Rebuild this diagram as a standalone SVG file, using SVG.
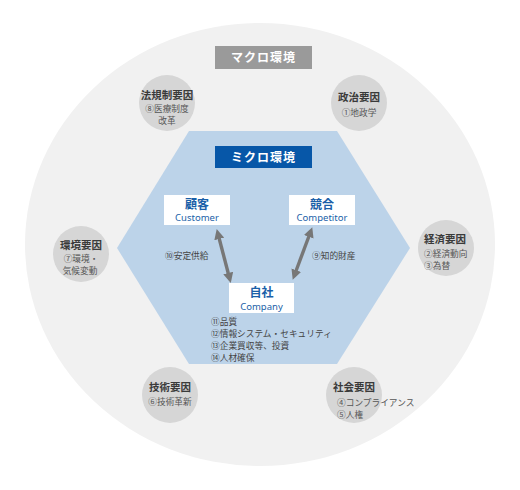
<svg xmlns="http://www.w3.org/2000/svg" width="520" height="490" viewBox="0 0 520 490">
<defs>
<style>
.t{font-family:"Noto Sans CJK JP","Noto Sans",sans-serif;}
.ft{font-size:10.5px;font-weight:bold;fill:#3a3a3a;text-anchor:middle;}
.fs{font-size:8.7px;fill:#555;}
.fc{text-anchor:middle;}
.lab{font-size:12px;font-weight:bold;fill:#fff;text-anchor:middle;letter-spacing:1px;}
.bt{font-size:12px;font-weight:bold;fill:#1a5fa8;text-anchor:middle;}
.be{font-family:"Noto Sans",sans-serif;font-size:9.5px;fill:#1a5fa8;text-anchor:middle;}
.circ{fill:#d6d6d6;}
.box{fill:#fff;}
.arr{stroke:#777;stroke-width:3.4;fill:none;marker-start:url(#ah);marker-end:url(#ah);}
.dk{fill:#444;}
</style>
<marker id="ah" viewBox="0 0 10 10" refX="5" refY="5" markerWidth="3" markerHeight="3" orient="auto-start-reverse" markerUnits="strokeWidth">
<path d="M0,0 L10,5 L0,10 z" fill="#777"/>
</marker>
</defs>
<rect width="520" height="490" fill="#fff"/>
<ellipse cx="260" cy="244.5" rx="235" ry="221.5" fill="#f1f1f1"/>
<polygon points="189,131 337,131 410,248 337,364 189,364 117,248" fill="#bcd3e9"/>
<g id="macro-label">
<rect x="215" y="46" width="97" height="23" fill="#9a9a9a"/>
<text class="t lab" x="263.5" y="62">マクロ環境</text>
</g>
<g id="micro-label">
<rect x="215" y="146" width="97" height="22" fill="#0757a8"/>
<text class="t lab" x="263.5" y="161.5">ミクロ環境</text>
</g>
<g id="hoki">
<circle class="circ" cx="167" cy="103" r="28"/>
<text class="t ft" x="167" y="99">法規制要因</text>
<text class="t fs fc" x="167" y="112">⑧医療制度</text>
<text class="t fs fc" x="167" y="124">改革</text>
</g>
<g id="seiji">
<circle class="circ" cx="359" cy="103" r="28"/>
<text class="t ft" x="359" y="101">政治要因</text>
<text class="t fs fc" x="359" y="116">①地政学</text>
</g>
<g id="kankyo">
<circle class="circ" cx="81" cy="254" r="28"/>
<text class="t ft" x="81" y="249">環境要因</text>
<text class="t fs fc" x="81" y="262">⑦環境・</text>
<text class="t fs fc" x="80" y="274">気候変動</text>
</g>
<g id="keizai">
<circle class="circ" cx="446" cy="248" r="28"/>
<text class="t ft" x="445" y="243">経済要因</text>
<text class="t fs" x="424" y="256.5">②経済動向</text>
<text class="t fs" x="424" y="268.5">③為替</text>
</g>
<g id="gijutsu">
<circle class="circ" cx="170" cy="395" r="28"/>
<text class="t ft" x="170" y="391">技術要因</text>
<text class="t fs fc" x="170" y="405">⑥技術革新</text>
</g>
<g id="shakai">
<circle class="circ" cx="354" cy="395" r="28"/>
<text class="t ft" x="354" y="391">社会要因</text>
<text class="t fs" x="337" y="406">④コンプライアンス</text>
<text class="t fs" x="337" y="418">⑤人権</text>
</g>
<g id="customer">
<rect class="box" x="164" y="195" width="66" height="30"/>
<text class="t bt" x="197" y="208.5">顧客</text>
<text class="be" x="197" y="221">Customer</text>
</g>
<g id="competitor">
<rect class="box" x="289" y="195" width="66" height="30"/>
<text class="t bt" x="322" y="208.5">競合</text>
<text class="be" x="322" y="221">Competitor</text>
</g>
<g id="company">
<rect class="box" x="229" y="283" width="65" height="30"/>
<text class="t bt" x="261.5" y="296.5">自社</text>
<text class="be" x="261.5" y="309.5">Company</text>
</g>
<g id="connectors">
<line class="arr" x1="218" y1="234" x2="229.5" y2="278"/>
<line class="arr" x1="310.5" y1="232" x2="294.5" y2="275"/>
</g>
<text class="t fs dk" x="165" y="258.5">⑩安定供給</text>
<text class="t fs dk" x="312" y="258.5">⑨知的財産</text>
<g id="company-items">
<text class="t fs dk" x="211" y="324.5">⑪品質</text>
<text class="t fs dk" x="211" y="336.5">⑫情報システム・セキュリティ</text>
<text class="t fs dk" x="211" y="348.5">⑬企業買収等、投資</text>
<text class="t fs dk" x="211" y="360.5">⑭人材確保</text>
</g>
</svg>
